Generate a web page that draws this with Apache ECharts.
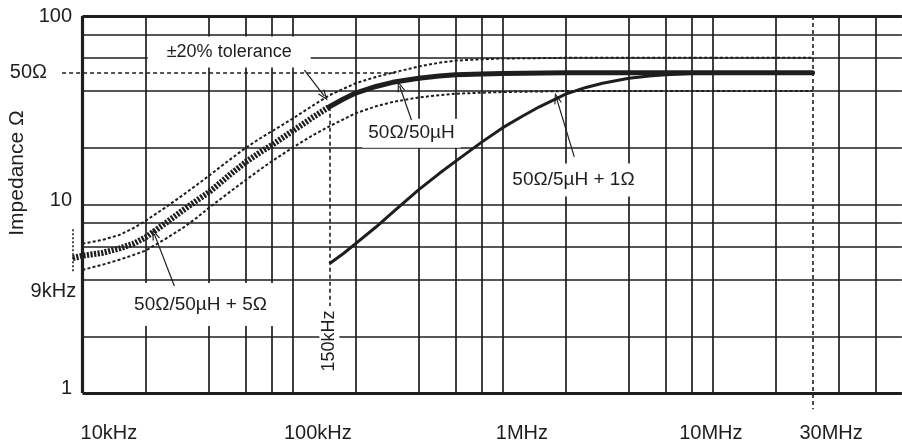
<!DOCTYPE html>
<html>
<head>
<meta charset="utf-8">
<title>LISN impedance</title>
<script src="https://cdn.jsdelivr.net/npm/echarts@6/dist/echarts.min.js"></script>
<style>
  html, body { margin: 0; padding: 0; background: #fff; }
  #chart { width: 902px; height: 448px; }
</style>
</head>
<body>
<div id="chart"></div>
<script>
// frequency in Hz, impedance in ohm

// 50Ω/50µH + 5Ω, hatched part 9kHz..150kHz
var nomFreq = [9e3, 1e4, 1.25e4, 1.5e4, 1.75e4, 2e4, 2.5e4, 3e4, 3.5e4, 4e4, 5e4, 6e4, 7e4, 8e4, 1e5, 1.25e5, 1.5e5];
var nomZ    = [5.2, 5.35, 5.55, 5.85, 6.2, 6.7, 8.0, 9.3, 10.5, 11.6, 14.3, 16.8, 18.9, 20.7, 24.5, 29, 33];

// 50Ω/50µH, thick part 150kHz..30MHz
var mainFreq = [1.5e5, 1.75e5, 2e5, 2.5e5, 3e5, 4e5, 5e5, 6e5, 8e5, 1e6, 2e6, 5e6, 1e7, 3e7];
var mainZ    = [33, 36.3, 39, 42.3, 44.5, 46.8, 48, 48.8, 49.3, 49.6, 50, 50, 50, 50];

// ±20% tolerance band
var tolFreq  = [1e4, 1.25e4, 1.5e4, 1.75e4, 2e4, 2.5e4, 3e4, 3.5e4, 4e4, 5e4, 6e4, 7e4, 8e4, 1e5, 1.25e5, 1.5e5, 2e5, 2.5e5, 3e5, 4e5, 5e5, 6e5, 8e5, 1e6, 2e6, 3e7];
var tolUpper = [6.2, 6.5, 6.9, 7.5, 8.2, 9.7, 11.2, 12.7, 14.2, 17.2, 20, 22.4, 24.5, 28.5, 33.5, 38, 44, 47.5, 50, 54, 56.5, 58, 59, 59.5, 60, 60];
var tolLower = [4.5, 4.8, 5.1, 5.4, 5.7, 6.6, 7.5, 8.5, 9.6, 11.6, 13.5, 15.3, 17, 20, 23.3, 26, 30.5, 33.2, 35, 37, 38, 38.7, 39.2, 39.5, 40, 40];

// 50Ω/5µH + 1Ω
var smallFreq = [1.5e5, 1.75e5, 2e5, 2.5e5, 3e5, 4e5, 5e5, 6e5, 8e5, 1e6, 1.25e6, 1.5e6, 2e6, 2.5e6, 3e6, 4e6, 5e6, 6e6, 8e6, 1e7];
var smallZ    = [4.85, 5.5, 6.2, 7.6, 9.1, 12, 14.6, 17, 21.5, 25.5, 29.5, 33, 38.5, 41.8, 44, 46.8, 48, 48.8, 49.6, 50];

// axes
var xTicks = [1e4, 1e5, 1e6, 1e7, 3e7];
var xTickText = ['10kHz', '100kHz', '1MHz', '10MHz', '30MHz'];
var yTicks = [1, 10, 50, 100];
var yTickText = ['1', '10', '50Ω', '100'];
var vGrid = [2e4, 4e4, 6e4, 8e4, 1e5, 2e5, 4e5, 6e5, 8e5, 1e6, 2e6, 4e6, 6e6, 8e6, 1e7, 2e7, 4e7, 6e7];
var hGrid = [2, 4, 6, 8, 10, 20, 40, 60, 80];

// annotation texts and their anchor points [freq, Z]
var noteText = ['±20% tolerance', '50Ω/50µH', '50Ω/5µH + 1Ω', '50Ω/50µH + 5Ω', '9kHz', '150kHz'];
var notePos  = [[5.0e4, 64.4], [3.69e5, 23.9], [2.18e6, 13.5], [3.65e4, 2.95], [7.27e3, 3.48], [1.5e5, 1.89]];

// arrows: [from, to]
var arrows = [
  [[1.14e5, 51.7], [1.42e5, 37.6]],
  [[3.69e5, 28.1], [3.24e5, 42.5]],
  [[2.2e6, 17.9], [1.81e6, 36.7]],
  [[2.74e4, 3.7], [2.2e4, 6.97]]
];

var INK = '#1e1e1e';
var FONT = '"Liberation Sans", Arial, Helvetica, sans-serif';
var X_MIN = 4050, X_MAX = 8e7, X_END = 7.99e7, Y_TOP = 99.98;

function pairs(fs, zs) { return fs.map(function (f, i) { return [f, zs[i]]; }); }
function seg(a, b) { return [{ coord: a }, { coord: b }]; }
function nearest(list, v) {
  var best = 0, d = Infinity;
  list.forEach(function (t, i) {
    var e = Math.abs(Math.log(v / t));
    if (e < d) { d = e; best = i; }
  });
  return best;
}

var gridLines = [];
vGrid.forEach(function (v) { gridLines.push(seg([v, 1], [v, Y_TOP])); });
hGrid.forEach(function (v) { gridLines.push(seg([1e4, v], [X_END, v])); });

var frameLines = [
  seg([1e4, 1], [1e4, Y_TOP]),
  seg([1e4, Y_TOP], [X_END, Y_TOP]),
  seg([1e4, 1], [X_END, 1])
];

var noteStyle = [
  { fontSize: 18, padding: [6, 19, 7, 19], backgroundColor: '#fff' },
  { fontSize: 19, padding: [5, 6, 5, 6], backgroundColor: '#fff' },
  { fontSize: 19, padding: [7, 8, 7, 8], backgroundColor: '#fff' },
  { fontSize: 19, padding: [17, 10, 7, 10], backgroundColor: '#fff' },
  { fontSize: 20 },
  { fontSize: 18, rotate: 90, padding: [1, 2], backgroundColor: '#fff' }
];
var notes = noteText.map(function (t, i) {
  return { name: t, value: notePos[i], label: noteStyle[i] };
});

function curve(name, data, style) {
  return {
    name: name,
    type: 'line',
    data: data,
    showSymbol: false,
    smooth: false,
    z: 3,
    lineStyle: style
  };
}

var chart = echarts.init(document.getElementById('chart'));

chart.setOption({
  animation: false,
  backgroundColor: '#fff',
  textStyle: { fontFamily: FONT, color: INK },
  grid: { left: 0, right: 0, top: 16, bottom: 28 },
  xAxis: {
    type: 'log',
    min: X_MIN,
    max: X_MAX,
    axisLine: { show: false },
    axisTick: { show: false },
    splitLine: { show: false },
    axisLabel: {
      customValues: xTicks,
      margin: 3,
      formatter: function (v) {
        var i = nearest(xTicks, v);
        return '{t' + i + '|' + xTickText[i] + '}';
      },
      rich: {
        t0: { fontSize: 20, fontFamily: FONT, color: INK, padding: [0, 0, 0, 53] },
        t1: { fontSize: 20, fontFamily: FONT, color: INK, padding: [0, 0, 0, 51] },
        t2: { fontSize: 20, fontFamily: FONT, color: INK, padding: [0, 0, 0, 39] },
        t3: { fontSize: 20, fontFamily: FONT, color: INK, padding: [0, 3, 0, 0] },
        t4: { fontSize: 20, fontFamily: FONT, color: INK, padding: [0, 0, 0, 37] }
      }
    }
  },
  yAxis: {
    type: 'log',
    min: 0.72,
    max: 100,
    axisLine: { show: false },
    axisTick: { show: false },
    splitLine: { show: false },
    axisLabel: {
      customValues: yTicks,
      inside: true,
      margin: 72,
      align: 'right',
      formatter: function (v) {
        var i = nearest(yTicks, v);
        var key = i === 2 ? 'o' : (i < 2 ? 'u' : 'n');
        return '{' + key + '|' + yTickText[i] + '}';
      },
      rich: {
        n: { fontSize: 20, fontFamily: FONT, color: INK },
        u: { fontSize: 20, fontFamily: FONT, color: INK, padding: [0, 0, 9, 0] },
        o: { fontSize: 20, fontFamily: FONT, color: INK, padding: [0, 25, 0, 0] }
      }
    }
  },
  graphic: [{
    type: 'text',
    x: 17,
    y: 173,
    rotation: Math.PI / 2,
    style: {
      text: 'Impedance Ω',
      fontSize: 21,
      fontFamily: FONT,
      fill: INK,
      align: 'center',
      verticalAlign: 'middle'
    }
  }],
  series: [
    {
      name: 'grid',
      type: 'line',
      data: [],
      z: 1,
      markLine: {
        z: 1,
        silent: true,
        symbol: ['none', 'none'],
        label: { show: false },
        lineStyle: { color: INK, width: 1.7, type: 'solid' },
        data: gridLines
      }
    },
    {
      name: 'notes',
      type: 'scatter',
      symbolSize: 0,
      silent: true,
      z: 2,
      itemStyle: { opacity: 1 },
      label: {
        show: true,
        position: 'inside',
        formatter: '{b}',
        color: INK,
        opacity: 1,
        fontFamily: FONT
      },
      data: notes
    },
    curve('tol upper', pairs(tolFreq, tolUpper), { color: INK, width: 2, type: [3, 2.2] }),
    curve('tol lower', pairs(tolFreq, tolLower), { color: INK, width: 2, type: [3, 2.2] }),
    curve('50Ω/50µH + 5Ω', pairs(nomFreq, nomZ), { color: INK, width: 6, type: [2.2, 1.4] }),
    curve('50Ω/50µH', pairs(mainFreq, mainZ), { color: INK, width: 5, cap: 'round', join: 'round' }),
    curve('50Ω/5µH + 1Ω', pairs(smallFreq, smallZ), { color: INK, width: 3, join: 'round' }),
    {
      name: 'refs',
      type: 'line',
      data: [],
      z: 3,
      markLine: {
        z: 3,
        silent: true,
        symbol: ['none', 'none'],
        label: { show: false },
        lineStyle: { color: INK, width: 1.6, type: [4, 3] },
        data: [
          seg([8000, 50], [3.2e5, 50]),
          seg([1.5e5, 33], [1.5e5, 2.9]),
          seg([3e7, Y_TOP], [3e7, 0.82]),
          [{ coord: [9e3, 7.4], lineStyle: { type: [2, 2] } }, { coord: [9e3, 4.4] }]
        ]
      }
    },
    {
      name: 'arrows',
      type: 'line',
      data: [],
      z: 4,
      markLine: {
        z: 4,
        silent: true,
        symbol: ['none', 'path://M0,11 L5,0 L10,11 L8.4,11 L5,3.2 L1.6,11 Z'],
        symbolSize: [8, 11],
        label: { show: false },
        lineStyle: { color: INK, width: 1.2, type: 'solid' },
        data: arrows.map(function (a) { return seg(a[0], a[1]); })
      }
    },
    {
      name: 'frame',
      type: 'line',
      data: [],
      z: 4,
      markLine: {
        z: 4,
        silent: true,
        symbol: ['none', 'none'],
        label: { show: false },
        lineStyle: { color: INK, width: 3.2, type: 'solid' },
        data: frameLines
      }
    }
  ]
});
</script>
</body>
</html>
